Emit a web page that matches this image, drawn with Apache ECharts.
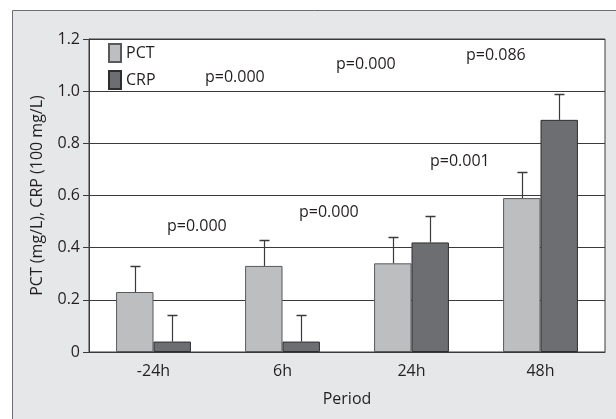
<!DOCTYPE html>
<html><head><meta charset="utf-8">
<script src="https://cdn.jsdelivr.net/npm/echarts@6/dist/echarts.min.js"></script>
<style>html,body{margin:0;padding:0;background:#fff}#c{width:616px;height:419px}</style>
</head><body><div id="c"></div>
<script>
const categories = ['-24h', '6h', '24h', '48h'];
const pctValues = [0.23, 0.33, 0.34, 0.59];
const crpValues = [0.04, 0.04, 0.42, 0.89];
const pctUpper = [0.33, 0.43, 0.44, 0.69];
const crpUpper = [0.14, 0.14, 0.52, 0.99];
const pLabels = ['p=0.000', 'p=0.000', 'p=0.000', 'p=0.001', 'p=0.000', 'p=0.086'];

const FONT = 'Open Sans';
const TXT = '#231f20';
const BW = 0.29;
const chart = echarts.init(document.getElementById('c'));

function errSeries(name, upper, vals, side) {
  return {
    type: 'custom', name: name + '_err', z: 5, silent: true,
    data: upper.map((u, i) => [i, vals[i], u]),
    renderItem: function (params, api) {
      const band = api.size([1, 0])[0];
      const off = side * band * BW / 2;
      const top = api.coord([api.value(0), api.value(2)]);
      const base = api.coord([api.value(0), api.value(1)]);
      const x = Math.round(top[0] + off) + 0.5;
      const yt = Math.round(top[1]) + 0.5;
      return { type: 'group', children: [
        { type: 'line', shape: { x1: x, y1: base[1], x2: x, y2: yt }, style: { stroke: '#3a3a3a', lineWidth: 1.2 } },
        { type: 'line', shape: { x1: x - 5, y1: yt, x2: x + 5, y2: yt }, style: { stroke: '#3a3a3a', lineWidth: 1.5 } }
      ]};
    }
  };
}

// p-value annotations: [x, baseline y] in pixels
const pPix = [[205, 83], [167, 232], [299, 218], [430, 167], [336, 70], [466, 61]];

chart.setOption({
  animation: false,
  textStyle: { fontFamily: FONT },
  graphic: [
    { type: 'rect', z: -10, shape: { x: 12.5, y: 10.5, width: 620, height: 420 }, style: { fill: '#e6e7e8', stroke: '#6d6e71', lineWidth: 1 } }
  ].concat(pLabels.map((t, i) => ({ type: 'text', z: 10, x: pPix[i][0], y: pPix[i][1] - 6,
      style: { text: t, fontFamily: FONT, fontSize: 16, fill: TXT, verticalAlign: 'middle', align: 'left' } }))),
  legend: {
    orient: 'vertical', left: 108, top: 43, padding: 0, itemWidth: 12, itemHeight: 18, itemGap: 7,
    textStyle: { fontFamily: FONT, fontSize: 16, color: TXT },
    data: [{ name: 'PCT', icon: 'rect' }, { name: 'CRP', icon: 'rect' }]
  },
  grid: { left: 89, right: 11, top: 39, bottom: 67, show: true, borderColor: '#3a3a3a', borderWidth: 1, backgroundColor: '#ffffff' },
  xAxis: {
    type: 'category', data: categories,
    name: 'Period', nameLocation: 'middle', nameGap: 39,
    nameTextStyle: { fontFamily: FONT, fontSize: 16, color: TXT },
    axisLine: { lineStyle: { color: '#3a3a3a' } }, axisTick: { show: false },
    axisLabel: { fontFamily: FONT, fontSize: 16, color: TXT, margin: 11 }
  },
  yAxis: {
    type: 'value', min: 0, max: 1.2, interval: 0.2,
    name: 'PCT (mg/L), CRP (100 mg/L)', nameLocation: 'middle', nameGap: 44,
    nameTextStyle: { fontFamily: FONT, fontSize: 16, color: TXT },
    axisLine: { show: true, lineStyle: { color: '#3a3a3a' } },
    axisTick: { show: true, length: 6, lineStyle: { color: '#3a3a3a' } },
    splitLine: { lineStyle: { color: '#3a3a3a', width: 1 } },
    axisLabel: { fontFamily: FONT, fontSize: 16, color: TXT, margin: 9,
      formatter: v => (v === 0 ? '0' : v.toFixed(1)) }
  },
  series: [
    { name: 'PCT', type: 'bar', data: pctValues, barWidth: (BW * 100) + '%', barGap: '0%', z: 3,
      itemStyle: { color: '#bcbec0', borderColor: '#58595b', borderWidth: 1 } },
    { name: 'CRP', type: 'bar', data: crpValues, barWidth: (BW * 100) + '%', barGap: '0%', z: 3,
      itemStyle: { color: '#6d6e71', borderColor: '#2e2e2e', borderWidth: 1 } },
    errSeries('PCT', pctUpper, pctValues, -1),
    errSeries('CRP', crpUpper, crpValues, 1)
  ]
});
</script></body></html>
